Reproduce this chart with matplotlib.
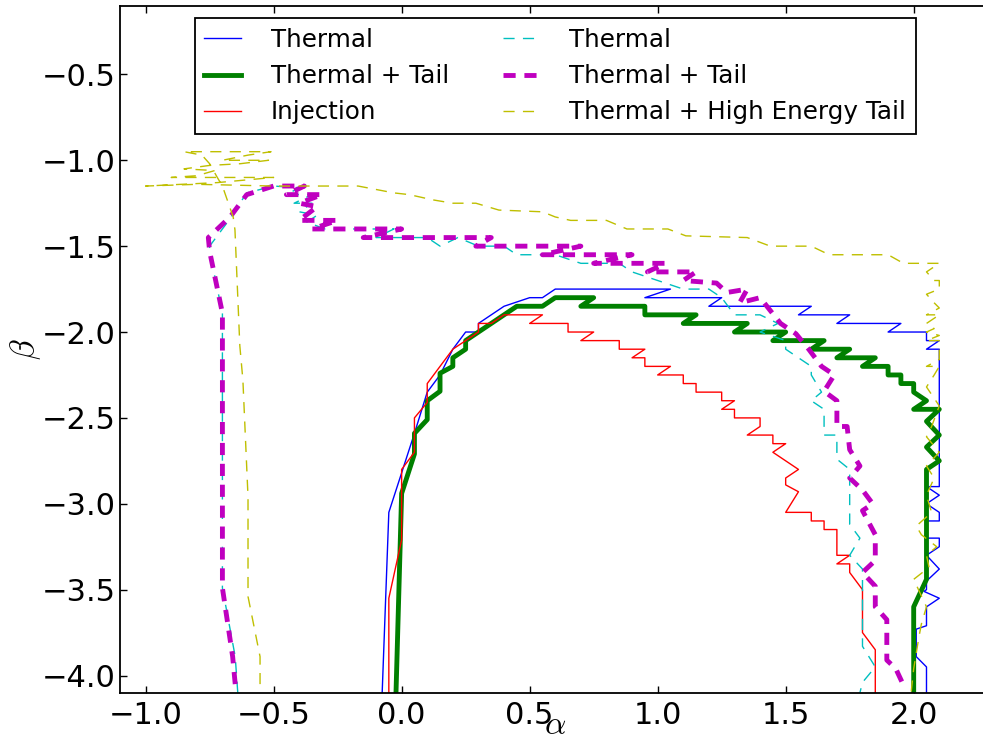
import matplotlib
matplotlib.use("Agg")
import matplotlib.pyplot as plt

plt.rcParams['mathtext.fontset'] = 'cm'
plt.rcParams['font.family'] = 'DejaVu Sans'

# contour 1: Thermal (blue, solid)
th_x = [-0.076, -0.05, 0.05, 0.10, 0.15, 0.20, 0.25, 0.30, 0.30, 0.40, 0.50, 0.55, 0.60, 1.05, 0.95,
        1.25, 1.20, 1.60, 1.55, 1.75, 1.70, 1.95, 1.90, 2.05, 2.05, 2.10, 2.05, 2.10, 2.10, 2.05,
        2.10, 2.05, 2.10, 2.10, 2.05, 2.05, 2.10, 2.10, 2.05, 2.10, 2.05, 2.05, 2.04, 2.10, 2.05,
        2.05, 2.01, 2.01, 2.05, 2.05]
th_y = [-4.10, -3.05, -2.59, -2.35, -2.25, -2.10, -2.00, -2.00, -1.95, -1.85, -1.80, -1.80, -1.75, -1.75, -1.80,
        -1.80, -1.85, -1.85, -1.90, -1.90, -1.95, -1.95, -2.00, -2.00, -2.05, -2.05, -2.10, -2.10, -2.90, -2.90,
        -2.95, -3.00, -3.05, -3.10, -3.10, -3.20, -3.20, -3.25, -3.30, -3.38, -3.45, -3.50, -3.51, -3.55, -3.60,
        -3.71, -3.73, -3.89, -3.95, -4.10]

# contour 2: Thermal + Tail (green, thick solid)
tt_x = [-0.022, 0.0, 0.05, 0.05, 0.10, 0.10, 0.15, 0.15, 0.20, 0.20, 0.25, 0.25, 0.30, 0.40, 0.45,
        0.55, 0.60, 0.75, 0.70, 0.95, 0.95, 1.15, 1.10, 1.35, 1.30, 1.50, 1.45, 1.65, 1.60, 1.75,
        1.70, 1.85, 1.80, 1.90, 1.90, 1.95, 1.95, 2.00, 2.00, 2.05, 2.00, 2.10, 2.05, 2.10, 2.05,
        2.10, 2.05, 2.05, 2.00, 2.00]
tt_y = [-4.10, -2.94, -2.71, -2.59, -2.51, -2.40, -2.345, -2.24, -2.20, -2.15, -2.10, -2.05, -2.00, -1.90, -1.85,
        -1.85, -1.80, -1.80, -1.85, -1.85, -1.90, -1.90, -1.95, -1.95, -2.00, -2.00, -2.05, -2.05, -2.10, -2.10,
        -2.15, -2.15, -2.20, -2.20, -2.25, -2.25, -2.30, -2.30, -2.35, -2.40, -2.45, -2.45, -2.52, -2.60, -2.67,
        -2.75, -2.80, -3.44, -3.60, -4.10]

# contour 3: Injection (red, solid)
inj_x = [-0.05, -0.05, 0.0, 0.0, 0.05, 0.05, 0.10, 0.10, 0.15, 0.20, 0.25, 0.30, 0.30, 0.35, 0.40,
         0.55, 0.50, 0.65, 0.65, 0.75, 0.70, 0.85, 0.85, 0.95, 0.90, 0.95, 0.95, 1.05, 1.00, 1.10,
         1.10, 1.15, 1.15, 1.25, 1.25, 1.30, 1.25, 1.30, 1.30, 1.40, 1.40, 1.35, 1.45, 1.45, 1.50,
         1.45, 1.50, 1.55, 1.50, 1.50, 1.55, 1.50, 1.60, 1.60, 1.65, 1.65, 1.70, 1.70, 1.75, 1.70,
         1.75, 1.75, 1.80, 1.80, 1.85, 1.85]
inj_y = [-4.10, -3.55, -3.21, -2.80, -2.70, -2.50, -2.41, -2.30, -2.20, -2.10, -2.05, -2.00, -1.95, -1.95, -1.90,
         -1.90, -1.95, -1.95, -2.00, -2.00, -2.05, -2.05, -2.10, -2.10, -2.15, -2.15, -2.20, -2.20, -2.25, -2.25,
         -2.30, -2.30, -2.35, -2.35, -2.40, -2.40, -2.45, -2.45, -2.50, -2.50, -2.55, -2.60, -2.60, -2.65, -2.65,
         -2.70, -2.75, -2.80, -2.85, -2.89, -2.93, -3.05, -3.05, -3.10, -3.10, -3.15, -3.15, -3.30, -3.30, -3.35,
         -3.35, -3.40, -3.50, -3.75, -3.85, -4.10]

# contour 4: Thermal (cyan, dashed)
th2_x = [-0.64, -0.65, -0.70, -0.70, -0.75, -0.75, -0.68, -0.605, -0.50, -0.40, -0.45, -0.35, -0.42, -0.35,
         -0.40, -0.33, -0.37, -0.30, -0.03, -0.10, 0.10, 0.15, 0.22, 0.30, 0.40, 0.45, 0.60, 0.70,
         0.85, 0.90, 1.00, 1.10, 1.20, 1.25, 1.30, 1.40, 1.47, 1.40, 1.50, 1.50, 1.55, 1.60, 1.60,
         1.64, 1.60, 1.65, 1.65, 1.70, 1.70, 1.75, 1.75, 1.75, 1.79, 1.75, 1.80, 1.80, 1.85, 1.80, 1.79]
th2_y = [-4.10, -3.89, -3.49, -1.89, -1.53, -1.50, -1.36, -1.19, -1.15, -1.16, -1.20, -1.20, -1.25, -1.25,
         -1.30, -1.32, -1.36, -1.40, -1.40, -1.45, -1.45, -1.50, -1.45, -1.50, -1.50, -1.55, -1.55, -1.60,
         -1.60, -1.65, -1.70, -1.75, -1.75, -1.80, -1.90, -1.90, -1.95, -2.00, -2.05, -2.10, -2.15, -2.20, -2.25,
         -2.35, -2.40, -2.45, -2.60, -2.60, -2.74, -2.80, -3.05, -3.12, -3.20, -3.30, -3.38, -3.83, -3.95, -4.04, -4.10]

# contour 5: Thermal + Tail (magenta, thick dashed)
tt2_x = [-0.65, -0.66, -0.70, -0.70, -0.75, -0.755, -0.67, -0.605, -0.50, -0.38, -0.45, -0.31, -0.40, -0.33,
         -0.40, -0.25, -0.35, 0.0, -0.15, 0.19, 0.35, 0.29, 0.70, 0.55, 0.90, 0.75, 1.03, 0.96, 1.15,
         1.10, 1.23, 1.27, 1.35, 1.32, 1.40, 1.48, 1.54, 1.59, 1.64, 1.69, 1.65, 1.70, 1.70, 1.74, 1.75,
         1.79, 1.75, 1.80, 1.84, 1.80, 1.85, 1.85, 1.80, 1.85, 1.85, 1.895, 1.895, 1.93, 1.955]
tt2_y = [-4.05, -3.89, -3.49, -1.89, -1.53, -1.45, -1.33, -1.20, -1.15, -1.15, -1.20, -1.20, -1.25, -1.27,
         -1.35, -1.35, -1.40, -1.40, -1.45, -1.45, -1.45, -1.50, -1.50, -1.55, -1.55, -1.60, -1.60, -1.65, -1.65,
         -1.70, -1.715, -1.77, -1.75, -1.83, -1.80, -1.95, -2.01, -2.10, -2.20, -2.25, -2.345, -2.40, -2.55, -2.55, -2.685,
         -2.78, -2.85, -2.92, -3.00, -3.04, -3.18, -3.33, -3.40, -3.48, -3.60, -3.675, -3.91, -3.96, -4.04]

# contour 6: Thermal + High Energy Tail (yellow, dashed)
hi_x = [-0.553, -0.553, -0.60, -0.60, -0.62, -0.632, -0.651, -0.658, -0.70, -0.72, -0.75, -0.78, -0.85,
        -0.70, -0.62, -0.51, -0.60, -0.70, -0.52, -0.63, -0.75, -0.85, -0.73, -0.80, -0.90, -0.70, -0.50,
        -0.72, -1.00, -0.80, -0.50, -0.17, -0.03, 0.03, 0.12, 0.20, 0.29, 0.38, 0.55, 0.60, 0.66, 0.80,
        0.88, 1.04, 1.11, 1.35, 1.44, 1.60, 1.67, 1.90, 1.96, 2.10, 2.05, 2.08, 2.10, 2.10, 2.05, 2.08,
        2.10, 2.05, 2.10, 2.05, 2.08, 2.05, 2.10, 2.05, 2.10, 2.10, 2.05, 2.10, 2.08, 2.05, 2.10, 2.07,
        2.05, 2.10, 2.05, 2.08, 2.05, 2.07, 2.01, 2.03, 2.09, 2.05, 2.06, 2.00, 2.05, 2.03, 2.02, 2.00, 1.99]
hi_y = [-4.05, -3.89, -3.54, -2.96, -2.28, -2.08, -1.405, -1.33, -1.15, -1.10, -1.02, -0.97, -0.95,
        -0.95, -0.95, -0.95, -0.97, -1.00, -1.00, -1.02, -1.03, -1.05, -1.06, -1.09, -1.10, -1.10, -1.10,
        -1.13, -1.15, -1.14, -1.15, -1.15, -1.19, -1.20, -1.23, -1.25, -1.25, -1.29, -1.30, -1.33, -1.35, -1.35,
        -1.40, -1.40, -1.44, -1.45, -1.50, -1.50, -1.55, -1.55, -1.60, -1.60, -1.65, -1.70, -1.70, -1.75, -1.78, -1.83,
        -1.86, -1.90, -1.90, -1.95, -1.98, -2.00, -2.02, -2.05, -2.05, -2.16, -2.20, -2.20, -2.25, -2.32, -2.43, -2.55,
        -2.61, -2.70, -2.78, -2.85, -2.95, -3.05, -3.13, -3.18, -3.25, -3.30, -3.37, -3.44, -3.60, -3.70, -3.78, -3.96, -4.10]

fig = plt.figure(figsize=(9.83, 7.44), dpi=100)
ax = fig.add_axes([120 / 983, 51.3 / 744, 870.5 / 983, 687 / 744])

ax.plot(th_x, th_y, color='b', lw=1.0, label='Thermal')
ax.plot(tt_x, tt_y, color='g', lw=3.5, label='Thermal + Tail')
ax.plot(inj_x, inj_y, color='r', lw=1.0, label='Injection')
ax.plot(th2_x, th2_y, color='c', lw=1.0, ls='--', dashes=(8, 6), label='Thermal')
ax.plot(tt2_x, tt2_y, color='m', lw=3.5, ls='--', dashes=(2.5, 1.8), label='Thermal + Tail')
ax.plot(hi_x, hi_y, color=(0.75, 0.75, 0), lw=1.0, ls='--', dashes=(8, 6),
        label='Thermal + High Energy Tail')

ax.set_xlim(-1.1, 2.3)
ax.set_ylim(-4.1, -0.1)
ax.set_xticks([-1.0, -0.5, 0.0, 0.5, 1.0, 1.5, 2.0])
ax.set_yticks([-4.0, -3.5, -3.0, -2.5, -2.0, -1.5, -1.0, -0.5])
ax.tick_params(direction='in', length=5, width=1, top=True, right=True, labelsize=22)
ax.tick_params(axis='y', pad=3)
ax.tick_params(axis='x', pad=6)
for s in ax.spines.values():
    s.set_linewidth(1.3)

ax.set_xlabel(r'$\alpha$', fontsize=24, labelpad=-16)
ax.set_ylabel(r'$\beta$', fontsize=24, labelpad=-1)

leg = ax.legend(loc='upper center', ncol=2, fontsize=17.7, fancybox=False, edgecolor='black',
                framealpha=1, handlelength=1.5, handletextpad=1.2, columnspacing=2.2,
                borderaxespad=0.5)
leg.get_frame().set_linewidth(1.3)

fig.savefig('out.png', dpi=100, facecolor='white')
